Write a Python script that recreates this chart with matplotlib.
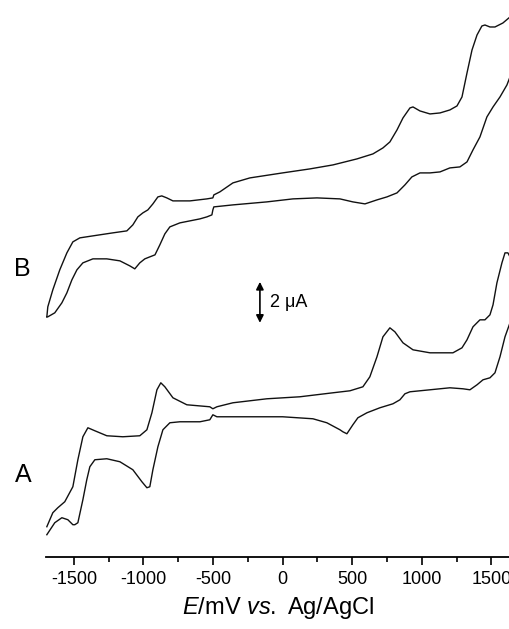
import matplotlib
matplotlib.use("Agg")
import matplotlib.pyplot as plt
from matplotlib.ticker import MultipleLocator
import numpy as np

plt.rcParams['font.family'] = ['Liberation Sans', 'DejaVu Sans']
plt.rcParams['axes.unicode_minus'] = False
plt.rcParams['mathtext.fontset'] = 'custom'
plt.rcParams['mathtext.rm'] = 'Liberation Sans'
plt.rcParams['mathtext.it'] = 'Liberation Sans:italic'

# curve A, positive-going scan (upper branch)  E / mV, i / uA
a_up_E = [-1694, -1651, -1615, -1565, -1507, -1471, -1435, -1399, -1349, -1263,
          -1148, -1026, -975, -939, -903, -875, -846, -788, -688, -523,
          -501, -472, -357, -113, 124, 362, 484, 577, 627, 678,
          721, 771, 807, 865, 937, 1059, 1224, 1289, 1325, 1368,
          1418, 1454, 1490, 1512, 1540, 1576, 1598, 1619, 1634]
a_up_i = [1.50, 2.20, 2.45, 2.75, 3.50, 4.85, 6.00, 6.45, 6.30, 6.05,
          6.00, 6.05, 6.35, 7.20, 8.35, 8.70, 8.50, 7.95, 7.60, 7.50,
          7.40, 7.50, 7.70, 7.90, 8.00, 8.20, 8.30, 8.50, 9.00, 10.00,
          11.00, 11.45, 11.25, 10.70, 10.35, 10.20, 10.20, 10.45, 10.85, 11.50,
          11.85, 11.85, 12.10, 12.60, 13.70, 14.70, 15.20, 15.20, 15.00]

# curve A, negative-going scan (lower branch)
a_dn_E = [1634, 1598, 1562, 1526, 1490, 1440, 1397, 1346, 1296, 1202,
          1059, 915, 879, 843, 793, 699, 606, 541, 505, 462,
          433, 412, 318, 218, 0, -235, -472, -501, -523, -594,
          -738, -810, -860, -896, -932, -954, -975, -1011, -1076, -1169,
          -1263, -1349, -1385, -1407, -1435, -1471, -1493, -1507, -1543, -1586,
          -1637, -1694]
a_dn_i = [11.70, 11.00, 10.00, 9.20, 8.95, 8.85, 8.60, 8.35, 8.40, 8.45,
          8.35, 8.25, 8.15, 7.85, 7.65, 7.45, 7.20, 6.95, 6.60, 6.15,
          6.25, 6.35, 6.70, 6.90, 7.00, 7.00, 7.00, 7.10, 6.85, 6.75,
          6.75, 6.70, 6.35, 5.50, 4.35, 3.50, 3.45, 3.75, 4.35, 4.75,
          4.90, 4.85, 4.50, 3.85, 2.85, 1.70, 1.60, 1.60, 1.85, 1.95,
          1.70, 1.10]

# curve B, positive-going scan
b_up_E = [-1694, -1687, -1651, -1601, -1550, -1507, -1457, -1363, -1220, -1119,
          -1076, -1040, -1004, -968, -932, -896, -868, -832, -788, -666,
          -544, -501, -494, -451, -357, -235, 0, 196, 362, 534,
          649, 721, 771, 822, 865, 915, 937, 987, 1059, 1131,
          1202, 1253, 1289, 1325, 1361, 1397, 1432, 1454, 1490, 1526,
          1583, 1634]
b_up_i = [3.00, 3.50, 4.35, 5.35, 6.20, 6.75, 6.95, 7.05, 7.20, 7.30,
          7.60, 8.00, 8.20, 8.35, 8.65, 9.00, 9.05, 8.95, 8.80, 8.80,
          8.90, 8.95, 9.10, 9.25, 9.70, 9.95, 10.20, 10.40, 10.60, 10.90,
          11.15, 11.45, 11.75, 12.35, 12.95, 13.45, 13.50, 13.30, 13.15, 13.20,
          13.35, 13.55, 14.00, 15.20, 16.35, 17.10, 17.55, 17.60, 17.50, 17.50,
          17.70, 18.00]

# curve B, negative-going scan
b_dn_E = [1634, 1612, 1562, 1512, 1468, 1418, 1368, 1325, 1274, 1202,
          1131, 1059, 987, 929, 879, 822, 750, 678, 592, 505,
          412, 247, 74, -113, -357, -494, -501, -508, -544, -594,
          -738, -810, -846, -882, -917, -954, -990, -1026, -1062, -1098,
          -1169, -1263, -1363, -1435, -1478, -1514, -1550, -1586, -1637, -1687,
          -1694]
b_dn_i = [15.00, 14.60, 14.00, 13.50, 13.00, 12.00, 11.35, 10.75, 10.50, 10.45,
          10.25, 10.20, 10.20, 10.00, 9.60, 9.20, 9.00, 8.85, 8.65, 8.75,
          8.90, 8.95, 8.90, 8.75, 8.60, 8.50, 8.35, 8.10, 8.00, 7.90,
          7.70, 7.50, 7.15, 6.60, 6.10, 6.00, 5.90, 5.70, 5.40, 5.55,
          5.80, 5.90, 5.90, 5.70, 5.35, 4.85, 4.20, 3.70, 3.20, 3.00,
          3.00]

b_offset = 9.0   # vertical shift of curve B (uA)

fig = plt.figure(figsize=(5.1, 6.29), dpi=100)
ax = fig.add_axes([46 / 510, 72.3 / 629, 464 / 510, 556.7 / 629])

lc = '#111111'
kw = dict(color=lc, lw=1.0, solid_joinstyle='round')
ax.plot(a_up_E, a_up_i, **kw)
ax.plot(a_dn_E, a_dn_i, **kw)
ax.plot(b_up_E, np.array(b_up_i) + b_offset, **kw)
ax.plot(b_dn_E, np.array(b_dn_i) + b_offset, **kw)

ax.set_xlim(-1700, 1634)
ax.set_ylim(0, 27.85)

for s in ['left', 'top', 'right']:
    ax.spines[s].set_visible(False)
ax.spines['bottom'].set_linewidth(1.3)
ax.set_yticks([])
ax.xaxis.set_major_locator(MultipleLocator(500))
ax.xaxis.set_minor_locator(MultipleLocator(250))
ax.tick_params(axis='x', which='major', length=6, width=1.2, labelsize=13, pad=4)
ax.tick_params(axis='x', which='minor', length=3.5, width=1.2)
ax.set_xlabel(r'$\it{E}$/mV $\it{vs.}$ Ag/AgCl', fontsize=17, labelpad=5)

# scale bar
ax.annotate('', xy=(-163, 13.75), xytext=(-163, 11.7),
            arrowprops=dict(arrowstyle='<|-|>', color='black', lw=1.2,
                            mutation_scale=11, shrinkA=0, shrinkB=0))
ax.text(-90, 12.7, '2 μA', fontsize=13, va='center', ha='left')

fig.text(22 / 510, 1 - 269 / 629, 'B', fontsize=18, ha='center', va='center')
fig.text(23 / 510, 1 - 475 / 629, 'A', fontsize=18, ha='center', va='center')

fig.savefig('out.png', dpi=100)
